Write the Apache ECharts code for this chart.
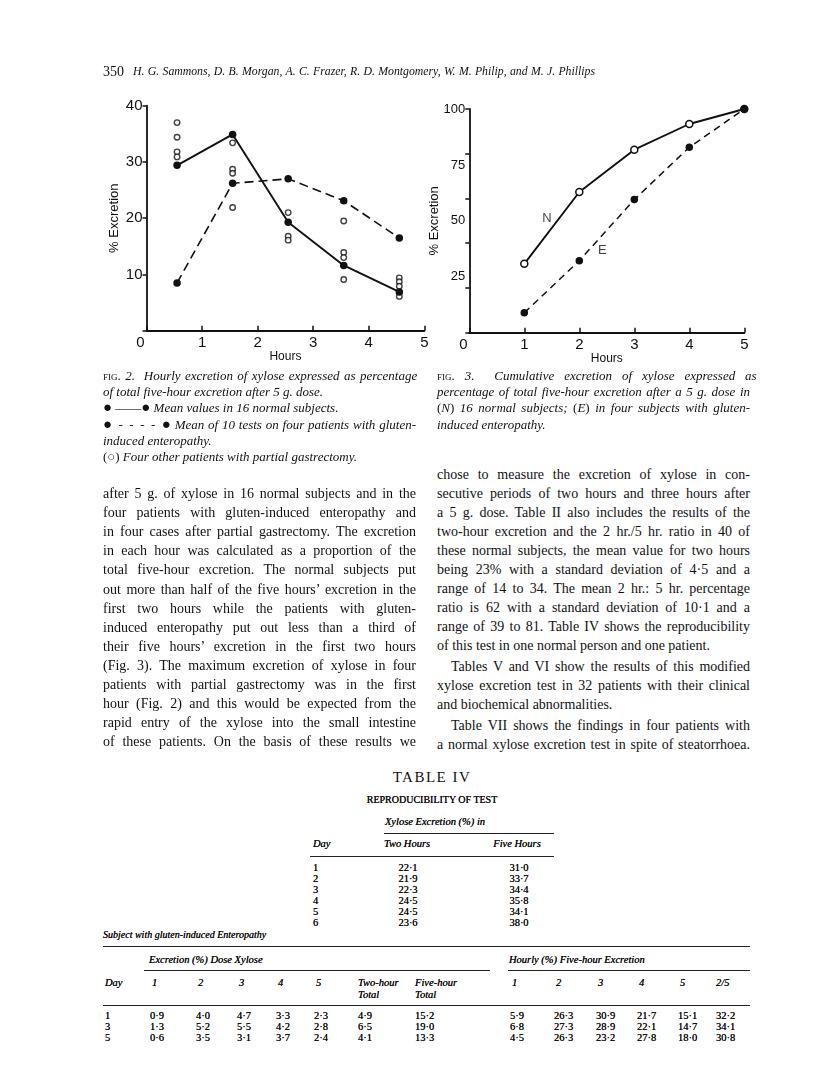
<!DOCTYPE html>
<html>
<head>
<meta charset="utf-8">
<title>Xylose excretion</title>
<script src="https://cdn.jsdelivr.net/npm/echarts@6/dist/echarts.min.js"></script>
<style>
  html, body { margin: 0; padding: 0; background: #fff; }
  #page { position: relative; width: 816px; height: 1086px; overflow: hidden;
          font-family: "Liberation Serif", "DejaVu Serif", serif; color: #111; }
  #figs { position: absolute; left: 0; top: 0; width: 816px; height: 400px; }
  .t { position: absolute; white-space: nowrap; line-height: 1; transform: translateY(-50%); }
  .c { transform: translate(-50%, -50%); }
  .it { font-style: italic; }
  .sc { font-variant: small-caps; font-style: normal; }
  .up { font-style: normal; }
  .dot { font-style: normal; font-size: 1.15em; }
  .tb { text-shadow: 0 0 0.3px #000; }
  .rule { position: absolute; height: 0; border-top: 1px solid #222; }
</style>
</head>
<body>
<div id="page">
  <div id="figs"></div>
</div>
<script>
// fig 2 - hourly excretion (% of five-hour total)
const hourMid = [0.55, 1.55, 2.55, 3.55, 4.55];
const normalHourly = [29.4, 34.9, 19.3, 11.6, 6.9];
const enteroHourly = [8.5, 26.2, 27.0, 23.1, 16.5];
// open circles, one list per hour
const gastrectomyHourly = [
  [37.0, 34.4, 31.8, 30.9],
  [33.4, 28.7, 28.0, 21.9],
  [21.0, 16.8, 16.1],
  [19.5, 13.9, 13.0, 9.1],
  [9.4, 8.7, 7.9, 6.1]
];
// fig 3 - cumulative excretion
const cumHours = [1, 2, 3, 4, 5];
const cumNormal = [30.8, 62.9, 81.8, 93.3, 100];
const cumEntero = [8.9, 32.2, 59.5, 82.9, 100];
const curveNames = [['N', 1.41, 51.0], ['E', 2.42, 37.0]];

// table IV
const t4Days = ['1', '2', '3', '4', '5', '6'];
const t4Two = ['22·1', '21·9', '22·3', '24·5', '24·5', '23·6'];
const t4Five = ['31·0', '33·7', '34·4', '35·8', '34·1', '38·0'];
// subject with gluten-induced enteropathy
const entDays = ['1', '3', '5'];
const entDose = [
  ['0·9', '4·0', '4·7', '3·3', '2·3'],
  ['1·3', '5·2', '5·5', '4·2', '2·8'],
  ['0·6', '3·5', '3·1', '3·7', '2·4']
];
const entTwo = ['4·9', '6·5', '4·1'];
const entFive = ['15·2', '19·0', '13·3'];
const entHourly = [
  ['5·9', '26·3', '30·9', '21·7', '15·1', '32·2'],
  ['6·8', '27·3', '28·9', '22·1', '14·7', '34·1'],
  ['4·5', '26·3', '23·2', '27·8', '18·0', '30·8']
];

const ink = '#111';
const sans = 'Liberation Sans';

function xAx(g) {
  return {
    gridIndex: g, type: 'value', min: 0, max: 5, interval: 1,
    axisLine: { onZero: false, lineStyle: { color: ink, width: 1.8 } },
    axisTick: { inside: true, length: 5, lineStyle: { color: ink, width: 1.5 } },
    splitLine: { show: false },
    axisLabel: {
      color: ink, fontSize: 15, fontFamily: sans, margin: 5,
      formatter: v => v === 0 ? '{z|0}' : String(v),
      rich: { z: { color: ink, fontSize: 15, fontFamily: sans, padding: [0, 12, 0, 0] } }
    },
    name: 'Hours', nameLocation: 'middle', nameGap: 20, nameMoveOverlap: false,
    nameTextStyle: { color: ink, fontSize: 12, fontFamily: sans }
  };
}

const yName = { color: ink, fontSize: 13, fontFamily: sans };

const option = {
  animation: false,
  grid: [
    { left: 146.5, top: 105.7, width: 277.8, height: 225, containLabel: false, outerBoundsMode: 'none' },
    { left: 469.3, top: 109, width: 275, height: 223.7, containLabel: false, outerBoundsMode: 'none' }
  ],
  xAxis: [xAx(0), xAx(1)],
  yAxis: [
    {
      gridIndex: 0, type: 'value', min: 0, max: 40, interval: 10, position: 'left',
      axisLine: { show: true, lineStyle: { color: ink, width: 1.8 } },
      axisTick: { show: true, length: 4, lineStyle: { color: ink, width: 1.5 } },
      splitLine: { show: false },
      axisLabel: { color: ink, fontSize: 15, fontFamily: sans, margin: 4, formatter: v => v === 0 ? '' : String(v) },
      name: '% Excretion', nameLocation: 'middle', nameGap: 26, nameMoveOverlap: false, nameTextStyle: yName
    },
    {
      gridIndex: 1, type: 'value', min: 0, max: 100, interval: 20, position: 'left',
      axisLine: { show: true, lineStyle: { color: ink, width: 1.8 } },
      axisTick: { show: true, length: 4, lineStyle: { color: ink, width: 1.5 } },
      splitLine: { show: false },
      axisLabel: { show: false },
      name: '% Excretion', nameLocation: 'middle', nameGap: 28, nameMoveOverlap: false, nameTextStyle: yName
    },
    {
      gridIndex: 1, type: 'value', min: 0, max: 100, interval: 25, position: 'left',
      axisLine: { show: false }, axisTick: { show: false }, splitLine: { show: false },
      axisLabel: { color: ink, fontSize: 13, fontFamily: sans, margin: 4, formatter: v => v === 0 ? '' : String(v) }
    }
  ],
  series: [
    {
      type: 'scatter', xAxisIndex: 0, yAxisIndex: 0, z: 2,
      data: gastrectomyHourly.flatMap((vals, i) => vals.map(v => [hourMid[i], v])),
      symbol: 'circle', symbolSize: 5.5,
      itemStyle: { color: '#fff', borderColor: ink, borderWidth: 1.4 }
    },
    {
      type: 'line', xAxisIndex: 0, yAxisIndex: 0, z: 3,
      data: hourMid.map((x, i) => [x, normalHourly[i]]),
      symbol: 'circle', symbolSize: 7.5,
      itemStyle: { color: ink }, lineStyle: { color: ink, width: 1.9 }
    },
    {
      type: 'line', xAxisIndex: 0, yAxisIndex: 0, z: 3,
      data: hourMid.map((x, i) => [x, enteroHourly[i]]),
      symbol: 'circle', symbolSize: 7.5,
      itemStyle: { color: ink }, lineStyle: { color: ink, width: 1.6, type: [9, 5] }
    },
    {
      type: 'line', xAxisIndex: 1, yAxisIndex: 1, z: 3,
      data: cumHours.map((x, i) => [x, cumNormal[i]]),
      symbol: 'circle', symbolSize: 7,
      itemStyle: { color: '#fff', borderColor: ink, borderWidth: 1.5 },
      lineStyle: { color: ink, width: 1.9 }
    },
    {
      type: 'line', xAxisIndex: 1, yAxisIndex: 1, z: 4,
      data: cumHours.map((x, i) => [x, cumEntero[i]]),
      symbol: 'circle', symbolSize: 7.5,
      itemStyle: { color: ink }, lineStyle: { color: ink, width: 1.5, type: [7, 5] }
    },
    {
      type: 'scatter', xAxisIndex: 1, yAxisIndex: 1, symbolSize: 0,
      data: curveNames.map(d => ({ name: d[0], value: [d[1], d[2]] })),
      label: { show: true, position: 'inside', formatter: p => p.name, color: ink, fontSize: 13, fontFamily: sans }
    }
  ]
};

echarts.init(document.getElementById('figs'), null, { renderer: 'canvas' }).setOption(option);

// ---- text of the page ----
const page = document.getElementById('page');
// place a line; with width, shrink the font if needed and spread the words to fill it
function put(html, x, y, size, cls, width) {
  const el = document.createElement('span');
  el.className = 't ' + (cls || '');
  el.style.left = x + 'px';
  el.style.top = y + 'px';
  el.style.fontSize = size + 'px';
  el.innerHTML = html;
  page.appendChild(el);
  if (width) {
    let w = el.getBoundingClientRect().width;
    if (w > width) {
      el.style.fontSize = (size * width / w * 0.985) + 'px';
      w = el.getBoundingClientRect().width;
    }
    const n = (el.textContent.match(/ /g) || []).length;
    if (n) el.style.wordSpacing = ((width - w) / n) + 'px';
  }
  return el;
}
function rule(x1, x2, y, w) {
  const el = document.createElement('div');
  el.className = 'rule';
  el.style.left = x1 + 'px';
  el.style.width = (x2 - x1) + 'px';
  el.style.top = y + 'px';
  el.style.borderTopWidth = (w || 1) + 'px';
  page.appendChild(el);
}

put('350', 103, 72, 14, '');
put('H. G. Sammons, D. B. Morgan, A. C. Frazer, R. D. Montgomery, W. M. Philip, and M. J. Phillips', 133, 72, 14, 'it', 462);

// captions
const capL = [
  ['<span class="sc">fig.</span> 2.&nbsp; Hourly excretion of xylose expressed as percentage', true],
  ['of total five-hour excretion after 5 g. dose.', false],
  ['<span class="dot">●</span>&nbsp;<span class="up">——</span><span class="dot">●</span> Mean values in 16 normal subjects.', false],
  ['<span class="dot">●</span><span class="up">&ensp;-&ensp;-&ensp;-&ensp;-&ensp;</span><span class="dot">●</span> Mean of 10 tests on four patients with gluten-', true],
  ['induced enteropathy.', false],
  ['<span class="up">(○)</span> Four other patients with partial gastrectomy.', false]
];
const capR = [
  ['<span class="sc">fig.</span> 3.&nbsp; Cumulative excretion of xylose expressed as', true],
  ['percentage of total five-hour excretion after a 5 g. dose in', true],
  ['<span class="up">(</span>N<span class="up">)</span> 16 normal subjects; <span class="up">(</span>E<span class="up">)</span> in four subjects with gluten-', true],
  ['induced enteropathy.', false]
];
capL.forEach((l, i) => put(l[0], 103, 375 + i * 16.2, 13, 'it', l[1] ? 313 : 0));
capR.forEach((l, i) => put(l[0], 437, 375 + i * 16.2, 13, 'it', l[1] ? 313 : 0));

// body text
const colL = [
  'after 5 g. of xylose in 16 normal subjects and in the',
  'four patients with gluten-induced enteropathy and',
  'in four cases after partial gastrectomy. The excretion',
  'in each hour was calculated as a proportion of the',
  'total five-hour excretion. The normal subjects put',
  'out more than half of the five hours’ excretion in the',
  'first two hours while the patients with gluten-',
  'induced enteropathy put out less than a third of',
  'their five hours’ excretion in the first two hours',
  '(Fig. 3). The maximum excretion of xylose in four',
  'patients with partial gastrectomy was in the first',
  'hour (Fig. 2) and this would be expected from the',
  'rapid entry of the xylose into the small intestine',
  'of these patients. On the basis of these results we'
];
colL.forEach((s, i) => put(s, 103, 494 + i * 19.1, 14, '', 313));

const colR = [
  ['chose to measure the excretion of xylose in con-', true, 0, 475],
  ['secutive periods of two hours and three hours after', true, 0, 494],
  ['a 5 g. dose. Table II also includes the results of the', true, 0, 513],
  ['two-hour excretion and the 2 hr./5 hr. ratio in 40 of', true, 0, 532],
  ['these normal subjects, the mean value for two hours', true, 0, 551],
  ['being 23% with a standard deviation of 4·5 and a', true, 0, 570],
  ['range of 14 to 34. The mean 2 hr.: 5 hr. percentage', true, 0, 589],
  ['ratio is 62 with a standard deviation of 10·1 and a', true, 0, 608],
  ['range of 39 to 81. Table IV shows the reproducibility', true, 0, 627],
  ['of this test in one normal person and one patient.', false, 0, 646],
  ['Tables V and VI show the results of this modified', true, 14, 667],
  ['xylose excretion test in 32 patients with their clinical', true, 0, 686],
  ['and biochemical abnormalities.', false, 0, 705],
  ['Table VII shows the findings in four patients with', true, 14, 726],
  ['a normal xylose excretion test in spite of steatorrhoea.', true, 0, 745]
];
colR.forEach(l => put(l[0], 437 + l[2], l[3], 14, '', l[1] ? 313 - l[2] : 0));

// table IV
put('TABLE IV', 432, 777, 15, 'c').style.letterSpacing = '1.5px';
put('REPRODUCIBILITY OF TEST', 432, 800, 10, 'c tb');
put('Xylose Excretion (%) in', 435, 822, 10.5, 'c it tb');
rule(384, 554, 833, 1);
put('Day', 313, 844, 10.5, 'it tb');
put('Two Hours', 407, 844, 10.5, 'c it tb');
put('Five Hours', 517, 844, 10.5, 'c it tb');
rule(310, 554, 856, 1);
t4Days.forEach((d, i) => {
  const y = 868 + i * 11;
  put(d, 313, y, 10.5, 'tb');
  put(t4Two[i], 408, y, 10.5, 'c tb');
  put(t4Five[i], 519, y, 10.5, 'c tb');
});

// enteropathy table
put('Subject with gluten-induced Enteropathy', 103, 935, 10, 'it tb');
rule(103, 750, 946, 1.5);
put('Excretion (%) Dose Xylose', 149, 960, 10.5, 'it tb');
put('Hourly (%) Five-hour Excretion', 509, 960, 10.5, 'it tb');
rule(144, 490, 970, 1);
rule(508, 750, 970, 1);
const colX = [150, 196, 237, 276, 314, 358, 415, 510, 554, 596, 637, 678, 716];
const heads = ['1', '2', '3', '4', '5', 'Two-hour', 'Five-hour', '1', '2', '3', '4', '5', '2/5'];
put('Day', 105, 983, 10.5, 'it tb');
heads.forEach((h, i) => put(h, colX[i] + (h.length === 1 ? 2 : 0), 983, 10.5, 'it tb'));
put('Total', colX[5], 995, 10.5, 'it tb');
put('Total', colX[6], 995, 10.5, 'it tb');
rule(103, 750, 1005, 1);
entDays.forEach((d, r) => {
  const y = 1016 + r * 11;
  const cells = entDose[r].concat([entTwo[r], entFive[r]], entHourly[r]);
  put(d, 105, y, 10.5, 'tb');
  cells.forEach((v, i) => put(v, colX[i], y, 10.5, 'tb'));
});
</script>
</body>
</html>
